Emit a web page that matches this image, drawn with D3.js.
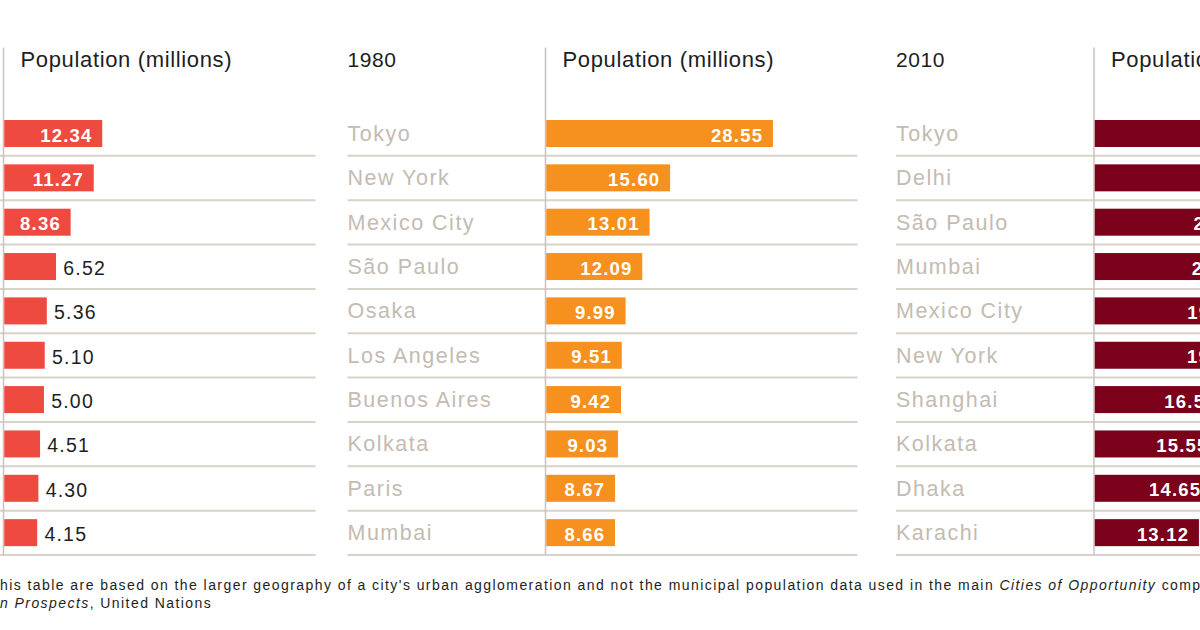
<!DOCTYPE html>
<html>
<head>
<meta charset="utf-8">
<script src="https://cdn.jsdelivr.net/npm/d3@7"></script>
<style>
  body { margin: 0; background: #fff; }
  svg { display: block; font-family: "Helvetica Neue", Helvetica, Arial, "Liberation Sans", sans-serif; }
</style>
</head>
<body>
<svg id="chart" width="1200" height="630"></svg>
<script>
// data (the left and right panels are cut by the frame)
const years = ["1950", "1980", "2010"]

const cities1950 = ["New York", "Tokyo", "London", "Paris", "Moscow",
  "Buenos Aires", "Chicago", "Kolkata", "Shanghai", "Osaka"]
const values1950 = [12.34, 11.27, 8.36, 6.52, 5.36, 5.10, 5.00, 4.51, 4.30, 4.15]

const cities1980 = ["Tokyo", "New York", "Mexico City", "São Paulo", "Osaka",
  "Los Angeles", "Buenos Aires", "Kolkata", "Paris", "Mumbai"]
const values1980 = [28.55, 15.60, 13.01, 12.09, 9.99, 9.51, 9.42, 9.03, 8.67, 8.66]

const cities2010 = ["Tokyo", "Delhi", "São Paulo", "Mumbai", "Mexico City",
  "New York", "Shanghai", "Kolkata", "Dhaka", "Karachi"]
const values2010 = [36.67, 22.16, 20.26, 20.04, 19.46, 19.43, 16.58, 15.55, 14.65, 13.12]

const headerLabel = "Population (millions)"

const noteLine1 = "his table are based on the larger geography of a city's urban agglomeration and not the municipal population data used in the main "
const noteItalic1 = "Cities of Opportunity"
const noteTail1 = " comp"
const noteItalic2 = "n Prospects"
const noteTail2 = ", United Nations"

const colors = ["#ee4a3f", "#f6901f", "#7b0019"]

/**
 * Draws one year panel: city names, a value axis line, bars and values.
 *
 * @param {Object} svg d3 selection
 * @param {Object} panel
 */
function drawPanel(svg, { year, cities, values, color, axisX, showNames }) {
  const data = cities.map((city, i) => ({ city, val: values[i] }))

  const y = d3.scaleBand()
    .domain(cities)
    .range([111.5, 555])

  const x = d3.scaleLinear()
    .domain([0, 40])
    .range([0, 317.6])

  const g = svg.append("g")
    .attr("transform", `translate(${axisX}, 0)`)

  g.selectAll("line.sep")
    .data(data)
    .join("line")
    .attr("class", "sep")
    .attr("x1", -198)
    .attr("x2", 312)
    .attr("y1", (d) => y(d.city) + y.bandwidth())
    .attr("y2", (d) => y(d.city) + y.bandwidth())
    .attr("stroke", "#d9d2cb")
    .attr("stroke-width", 2)

  g.append("line")
    .attr("x1", 0)
    .attr("x2", 0)
    .attr("y1", 47.5)
    .attr("y2", 555)
    .attr("stroke", "#cbc3bb")
    .attr("stroke-width", 1.5)

  g.append("text")
    .attr("x", 17)
    .attr("y", 67)
    .attr("fill", "#1e1e1e")
    .style("font-size", "22px")
    .style("letter-spacing", "0.65px")
    .text(headerLabel)

  if (showNames) {
    g.append("text")
      .attr("x", -198)
      .attr("y", 67)
      .attr("fill", "#1e1e1e")
      .style("font-size", "21px")
      .style("letter-spacing", "0.6px")
      .text(year)

    g.selectAll("text.city")
      .data(data)
      .join("text")
      .attr("class", "city")
      .attr("x", -198)
      .attr("y", (d) => y(d.city) + 29.5)
      .attr("fill", "#c4bbb2")
      .style("font-size", "21.5px")
      .style("letter-spacing", "1.5px")
      .text((d) => d.city)
  }

  g.selectAll("rect.bar")
    .data(data)
    .join("rect")
    .attr("class", "bar")
    .attr("x", 0.75)
    .attr("y", (d) => y(d.city) + 8.5)
    .attr("width", (d) => x(d.val))
    .attr("height", 27)
    .attr("fill", color)

  // values fit inside the longer bars, short bars get them outside in black
  const inside = (d) => x(d.val) > 60

  g.selectAll("text.val")
    .data(data)
    .join("text")
    .attr("class", "val")
    .attr("x", (d) => inside(d) ? x(d.val) - 9 : x(d.val) + 8)
    .attr("y", (d) => y(d.city) + (inside(d) ? 30 : 30.5))
    .attr("text-anchor", (d) => inside(d) ? "end" : "start")
    .attr("fill", (d) => inside(d) ? "#fff" : "#1e1e1e")
    .style("font-weight", (d) => inside(d) ? "bold" : "normal")
    .style("font-size", (d) => inside(d) ? "18.5px" : "19.5px")
    .style("letter-spacing", "1.2px")
    .text((d) => d.val.toFixed(2))
}

function drawNote(svg) {
  const note = svg.append("g")
    .attr("fill", "#1e1e1e")
    .style("font-size", "14px")
    .style("letter-spacing", "1.43px")

  const line1 = note.append("text").attr("x", 0).attr("y", 589.5)
  line1.append("tspan").text(noteLine1)
  line1.append("tspan").style("font-style", "italic").text(noteItalic1)
  line1.append("tspan").text(noteTail1)

  const line2 = note.append("text").attr("x", 0).attr("y", 608)
  line2.append("tspan").style("font-style", "italic").text(noteItalic2)
  line2.append("tspan").text(noteTail2)
}

const svg = d3.select("#chart")

drawPanel(svg, { year: years[0], cities: cities1950, values: values1950,
  color: colors[0], axisX: 3.5, showNames: false })
drawPanel(svg, { year: years[1], cities: cities1980, values: values1980,
  color: colors[1], axisX: 545.5, showNames: true })
drawPanel(svg, { year: years[2], cities: cities2010, values: values2010,
  color: colors[2], axisX: 1094, showNames: true })

drawNote(svg)
</script>
</body>
</html>
